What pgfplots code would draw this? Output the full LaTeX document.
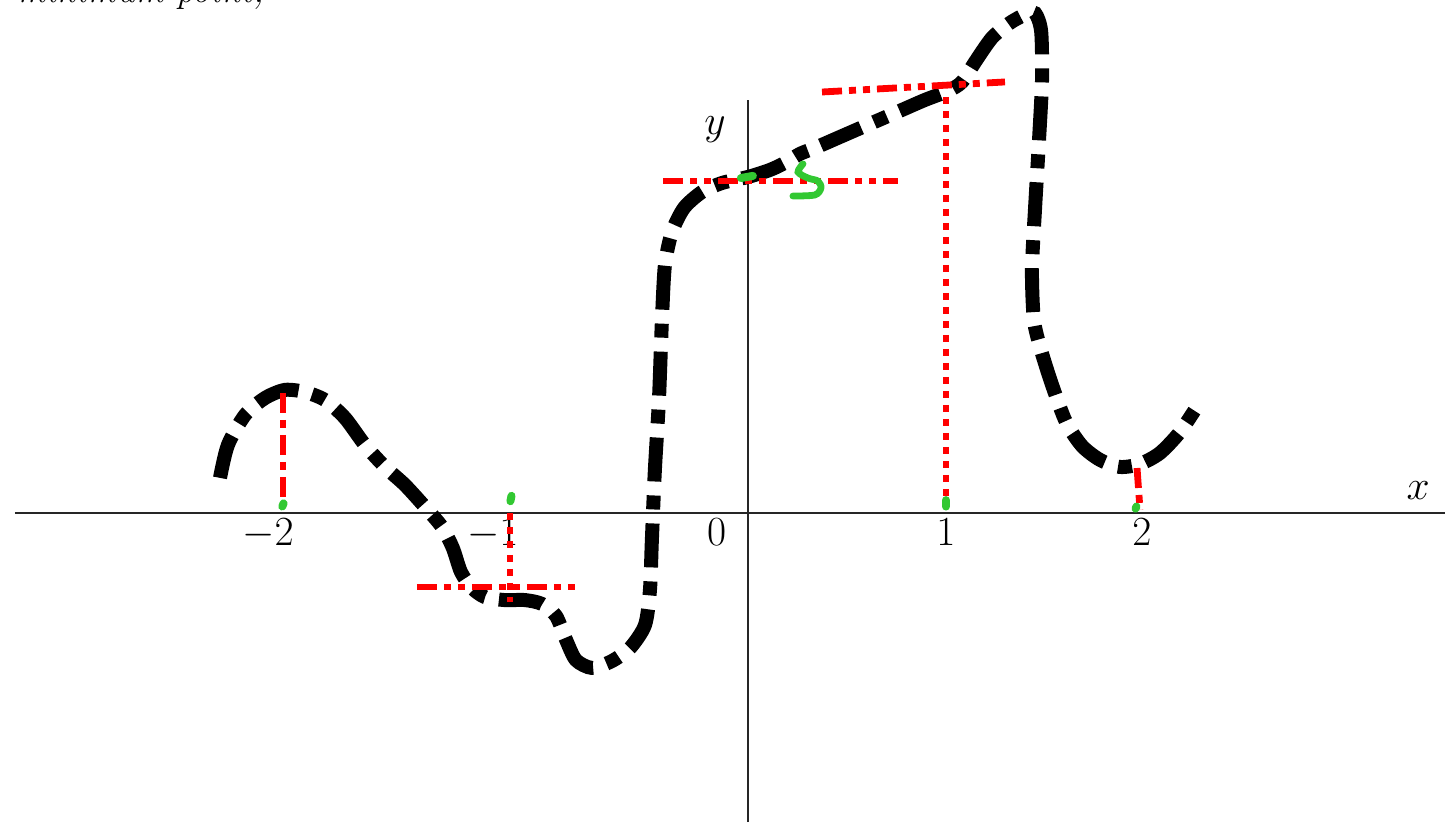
\documentclass[border=0pt]{standalone}
\usepackage{pgfplots}
\pgfplotsset{compat=1.18}
\definecolor{sketchred}{RGB}{255,0,0}
\definecolor{sketchgreen}{RGB}{50,200,50}
\begin{document}
\begin{tikzpicture}
\begin{axis}[
  x=107pt, y=107pt,
  axis lines=middle,
  xmin=-3.425, xmax=3.257, ymin=-1.444, ymax=1.930,
  clip=false,
  xtick={-2.243,-1.192,-0.147,0.925,1.841},
  xticklabels={$-2$,$-1$,$0$,$1$,$2$},
  ytick=\empty,
  major tick length=0pt,
  hide obscured x ticks=false,
  axis line style={black!85, line width=1pt, -},
  tick label style={font=\fontsize{20}{24}\selectfont, inner sep=1pt},
  xticklabel style={anchor=north, yshift=-1.5pt},
]
% page frame
\coordinate (tl) at (axis cs:-3.495,2.397);
\coordinate (br) at (axis cs:3.257,-1.444);

% the sketched function
\addplot[black, line width=7pt, smooth, tension=0.45,
  dash pattern=on 22pt off 7pt on 7pt off 7pt] coordinates {
  (-2.467,0.164) (-2.430,0.318) (-2.350,0.458) (-2.257,0.537) (-2.164,0.575)
  (-2.070,0.565) (-1.977,0.528) (-1.883,0.444) (-1.790,0.318) (-1.696,0.215)
  (-1.603,0.131) (-1.509,0.028) (-1.430,-0.065) (-1.379,-0.164) (-1.341,-0.276)
  (-1.290,-0.350) (-1.229,-0.393) (-1.136,-0.407) (-1.042,-0.407) (-0.963,-0.425)
  (-0.897,-0.481) (-0.850,-0.593) (-0.804,-0.687) (-0.729,-0.724) (-0.636,-0.692)
  (-0.551,-0.631) (-0.481,-0.523) (-0.458,-0.360) (-0.449,-0.126) (-0.435,0.201)
  (-0.416,0.528) (-0.402,0.902) (-0.388,1.159) (-0.355,1.313) (-0.299,1.425)
  (-0.215,1.500) (-0.121,1.542) (0,1.570) (0.103,1.603) (0.173,1.636)
  (0.243,1.678) (0.313,1.706) (0.430,1.757) (0.570,1.818) (0.710,1.879)
  (0.827,1.930) (0.935,1.972) (1.000,2.014) (1.061,2.107) (1.140,2.220)
  (1.224,2.290) (1.294,2.328) (1.342,2.335) (1.370,2.250) (1.374,2.023)
  (1.360,1.743) (1.341,1.416) (1.327,1.136) (1.336,0.902) (1.369,0.762)
  (1.421,0.598) (1.486,0.425) (1.561,0.313) (1.645,0.248) (1.738,0.215)
  (1.832,0.229) (1.925,0.280) (2.019,0.379) (2.112,0.519)
};

% red construction lines
\pgfplotsset{
  dashdot/.style={sketchred, line width=3.4pt,
    dash pattern=on 10pt off 3.5pt on 4pt off 3.5pt},
  dashdotdot/.style={sketchred, line width=3.4pt,
    dash pattern=on 10pt off 3.5pt on 3.5pt off 3.5pt on 3.5pt off 3.5pt},
  dots/.style={sketchred, line width=3.4pt,
    dash pattern=on 3.5pt off 3.5pt},
}
\addplot[dashdot] coordinates {(-2.173,0.561) (-2.173,0.037)};
\addplot[dots] coordinates {(-1.112,0) (-1.112,-0.416)};
\addplot[dashdotdot] coordinates {(-1.547,-0.346) (-0.808,-0.346)};
\addplot[dashdotdot] coordinates {(-0.397,1.551) (0.701,1.551)};
\addplot[dashdotdot] coordinates {(0.346,1.967) (1.201,2.014)};
\addplot[dots] coordinates {(0.925,1.944) (0.925,0.037)};
\addplot[dashdot] coordinates {(1.818,0.210) (1.832,0.014)};

% green marks
\pgfplotsset{greenmark/.style={sketchgreen, line width=4pt, line cap=round}}
\addplot[greenmark] coordinates {(-2.176,0.030) (-2.170,0.045)};
\addplot[greenmark] coordinates {(-1.110,0.055) (-1.105,0.080)};
\addplot[greenmark] coordinates {(0.925,0.030) (0.925,0.060)};
\addplot[greenmark] coordinates {(1.811,0.020) (1.815,0.030)};
\addplot[greenmark] coordinates {(-0.033,1.565) (0.023,1.575)};
\addplot[greenmark, line width=3.4pt, smooth, tension=0.5] coordinates {
  (0.257,1.631) (0.234,1.593) (0.280,1.565) (0.327,1.551) (0.341,1.519)
  (0.313,1.486) (0.210,1.481)};

% axis names and text
\node[font=\fontsize{20}{24}\selectfont] at (axis cs:3.131,0.107) {$x$};
\node[font=\fontsize{20}{24}\selectfont] at (axis cs:-0.154,1.790) {$y$};
\node[anchor=base west, inner sep=0pt, font=\fontsize{18}{22}\selectfont\itshape]
  at (axis cs:-3.416,2.383) {minimum point,};
\end{axis}
\pgfresetboundingbox
\useasboundingbox (tl) rectangle (br);
\end{tikzpicture}
\end{document}
